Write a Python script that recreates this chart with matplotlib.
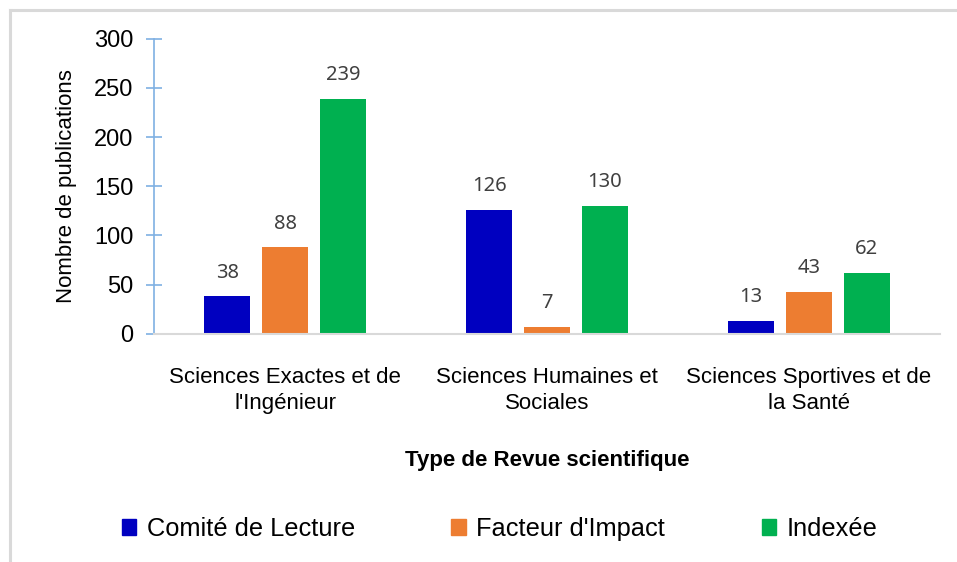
import numpy as np
import matplotlib
matplotlib.use('Agg')
import matplotlib.pyplot as plt
from matplotlib.lines import Line2D
from matplotlib.patches import Patch

categories = ["Sciences Exactes et de\nl'Ingénieur",
              "Sciences Humaines et\nSociales",
              "Sciences Sportives et de\nla Santé"]
series = ["Comité de Lecture", "Facteur d'Impact", "Indexée"]
comite = [38, 126, 13]
facteur = [88, 7, 43]
indexee = [239, 130, 62]
colors = ['#0000C0', '#ED7D31', '#00B050']

plt.rcParams['font.family'] = ['Liberation Sans', 'DejaVu Sans']

fig = plt.figure(figsize=(9.57, 5.62), dpi=100)
ax = fig.add_axes([0.161, 0.406, 0.821, 0.525])

x = np.arange(len(categories))
width = 0.176
offset = 0.221
for i, (vals, col) in enumerate(zip([comite, facteur, indexee], colors)):
    pos = x + (i - 1) * offset
    ax.bar(pos, vals, width, color=col, label=series[i])
    for p, v in zip(pos, vals):
        ax.text(p, v + 14, str(v), ha='center', va='bottom', fontsize=14.5,
                color='#404040', family=['Noto Sans', 'DejaVu Sans'])

ax.set_xlim(-0.5, 2.5)
ax.set_ylim(0, 300)
ax.set_yticks(range(0, 301, 50))
ax.set_xticks(x)
ax.set_xticklabels(categories, fontsize=16, linespacing=1.3)
ax.tick_params(axis='x', length=0, pad=24)
ax.tick_params(axis='y', direction='inout', length=12, width=1.2,
               color='#7FB0E3', labelsize=17, pad=9)

for s in ['top', 'right']:
    ax.spines[s].set_visible(False)
ax.spines['left'].set_color('#7FB0E3')
ax.spines['left'].set_linewidth(1.2)
ax.spines['bottom'].set_color('#D9D9D9')
ax.spines['bottom'].set_linewidth(1.5)

ax.set_ylabel('Nombre de publications', fontsize=16, labelpad=12)
ax.set_xlabel('Type de Revue scientifique', fontsize=16, fontweight='bold',
              labelpad=26)

handles = [Patch(color=c) for c in colors]
fig.legend(handles, series, loc='center', bbox_to_anchor=(0.522, 0.059), ncol=3,
           frameon=False, fontsize=18.3, handlelength=0.58, handleheight=0.58,
           handletextpad=0.4, columnspacing=3.8)

# frame around the chart
fig.add_artist(Line2D([10 / 957, 1], [1 - 10 / 562, 1 - 10 / 562],
                      transform=fig.transFigure, color='#D9D9D9', lw=2.2))
fig.add_artist(Line2D([10 / 957, 10 / 957], [0, 1 - 10 / 562],
                      transform=fig.transFigure, color='#D9D9D9', lw=2.2))

fig.savefig('out.png', dpi=100)
